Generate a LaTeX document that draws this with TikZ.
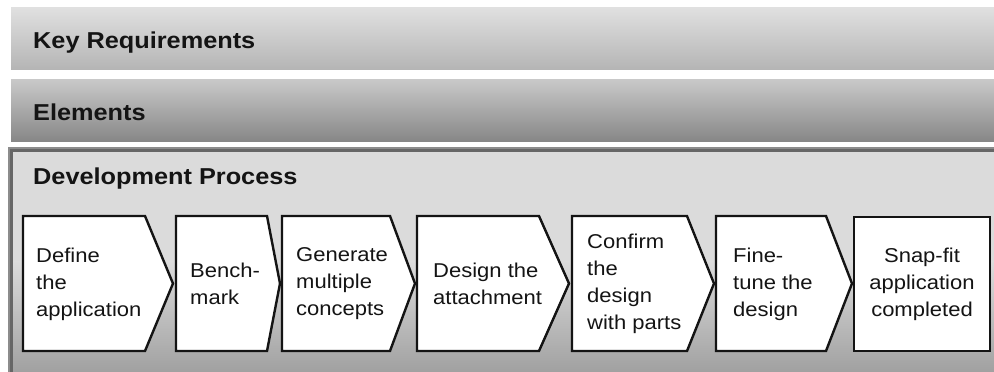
\documentclass[tikz,border=0pt]{standalone}
\usepackage{fontspec}
\setmainfont{Liberation Sans}[FakeStretch=1.1]
\begin{document}
\begin{tikzpicture}[x=1pt,y=-1pt,
  header/.style={anchor=base west,inner sep=0pt,font=\fontsize{23}{28}\selectfont\bfseries,text=black!92},
  steptext/.style={anchor=west,inner sep=0pt,align=left,font=\fontsize{20}{27}\selectfont,text=black!92},
  chev/.style={draw=black!92,line width=2.4pt,fill=white,line join=miter}]
\useasboundingbox (0,0) rectangle (994,372);
% bars
\shade[top color=black!12,bottom color=black!29] (11,7) rectangle (994,69);
\shade[top color=black!21,bottom color=black!47] (11,79) rectangle (994,141);
% development box
\fill[black!45] (8,147) rectangle (994,372);
\fill[black!60] (9.5,148.5) rectangle (994,372);
\fill[black!14] (13,152) rectangle (994,262);
\shade[top color=black!14,bottom color=black!37] (13,261.5) rectangle (994,372);
\node[header] (kr) at (33,48) {Key Requirements};
\node[header] (el) at (33,120) {Elements};
\node[header] (dp) at (33,184) {Development Process};
% chevrons
\draw[chev] (23,216) -- (145,216) -- (173,283.5) -- (145,351) -- (23,351) -- cycle;
\draw[chev] (176,216) -- (267,216) -- (280,283.5) -- (267,351) -- (176,351) -- cycle;
\draw[chev] (282,216) -- (390,216) -- (415,283.5) -- (390,351) -- (282,351) -- cycle;
\draw[chev] (417,216) -- (539,216) -- (569,283.5) -- (539,351) -- (417,351) -- cycle;
\draw[chev] (572,216) -- (687,216) -- (714,283.5) -- (687,351) -- (572,351) -- cycle;
\draw[chev] (716,216) -- (826,216) -- (852,283.5) -- (826,351) -- (716,351) -- cycle;
\draw[chev] (854,217) rectangle (990,351);
% texts
\node[steptext] (s1) at (36,284) {Define\\the\\application};
\node[steptext] (s2) at (190,284) {Bench-\\mark};
\node[steptext] (s3) at (296,284) {Generate\\multiple\\concepts};
\node[steptext] (s4) at (433,284) {Design the\\attachment};
\node[steptext] (s5) at (587,284) {Confirm\\the\\design\\with parts};
\node[steptext] (s6) at (733,284) {Fine-\\tune the\\design};
\node[steptext,anchor=center,align=center] (s7) at (922,284) {Snap-fit\\application\\completed};
\end{tikzpicture}
\end{document}
